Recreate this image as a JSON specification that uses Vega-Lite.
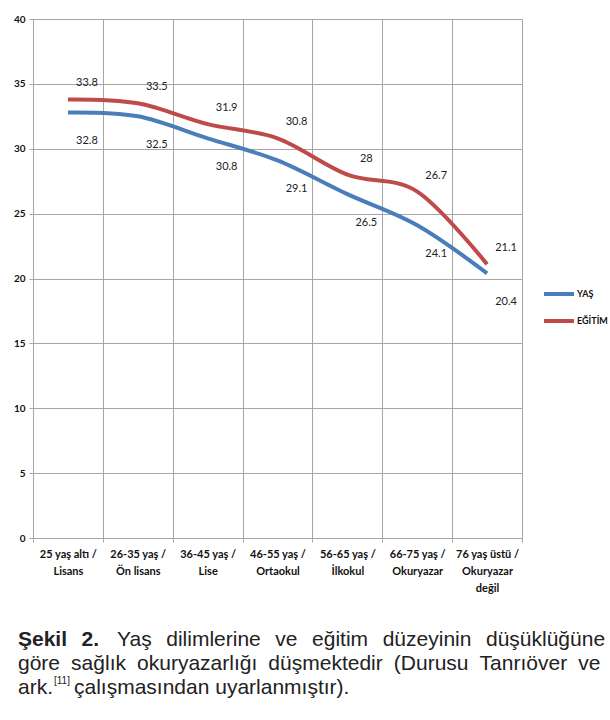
{
  "$schema": "https://vega.github.io/schema/vega-lite/v6.json",
  "background": "white",
  "padding": {"left": 12, "top": 13, "right": 0, "bottom": 0},
  "config": {"font": "Lato", "view": {"stroke": null}, "concat": {"spacing": 34}},
  "datasets": {
    "main": [
      {"cat": "25 yaş altı /|Lisans", "series": "YAŞ", "value": 32.8},
      {"cat": "26-35 yaş /|Ön lisans", "series": "YAŞ", "value": 32.5},
      {"cat": "36-45 yaş /|Lise", "series": "YAŞ", "value": 30.8},
      {"cat": "46-55 yaş /|Ortaokul", "series": "YAŞ", "value": 29.1},
      {"cat": "56-65 yaş /|İlkokul", "series": "YAŞ", "value": 26.5},
      {"cat": "66-75 yaş /|Okuryazar", "series": "YAŞ", "value": 24.1},
      {"cat": "76 yaş üstü /|Okuryazar|değil", "series": "YAŞ", "value": 20.4},
      {"cat": "25 yaş altı /|Lisans", "series": "EĞİTİM", "value": 33.8},
      {"cat": "26-35 yaş /|Ön lisans", "series": "EĞİTİM", "value": 33.5},
      {"cat": "36-45 yaş /|Lise", "series": "EĞİTİM", "value": 31.9},
      {"cat": "46-55 yaş /|Ortaokul", "series": "EĞİTİM", "value": 30.8},
      {"cat": "56-65 yaş /|İlkokul", "series": "EĞİTİM", "value": 28},
      {"cat": "66-75 yaş /|Okuryazar", "series": "EĞİTİM", "value": 26.7},
      {"cat": "76 yaş üstü /|Okuryazar|değil", "series": "EĞİTİM", "value": 21.1}
    ],
    "caption": [
      {"line": 1, "part": "b", "text": "Şekil \u2005\u20062."},
      {"line": 1, "part": "r1", "text": "Yaş \u2005\u2006dilimlerine \u2005\u2006ve \u2005\u2006eğitim \u2005\u2006düzeyinin \u2005\u2006düşüklüğüne"},
      {"line": 2, "part": "r2", "text": "göre \u2005sağlık \u2005okuryazarlığı \u2005düşmektedir \u2005(Durusu \u2005Tanrıöver \u2005ve"},
      {"line": 3, "part": "r3a", "text": "ark."},
      {"line": 3, "part": "sup", "text": "[11]"},
      {"line": 3, "part": "r3b", "text": "çalışmasından uyarlanmıştır)."}
    ]
  },
  "vconcat": [
    {
      "width": 489,
      "height": 519,
      "data": {"name": "main"},
      "view": {"stroke": "#a6a6a6"},
      "encoding": {
        "x": {
          "field": "cat",
          "type": "nominal",
          "sort": null,
          "scale": {"type": "band", "paddingInner": 0, "paddingOuter": 0},
          "axis": {
            "title": null,
            "labelAngle": 0,
            "labelExpr": "split(datum.label, '|')",
            "labelFontWeight": "bold",
            "labelFontSize": 11,
            "labelColor": "#111",
            "labelLineHeight": 17,
            "labelPadding": 6,
            "labelBaseline": "top",
            "tickBand": "extent",
            "grid": true,
            "gridColor": "#a6a6a6",
            "domainColor": "#a6a6a6",
            "tickColor": "#a6a6a6",
            "tickSize": 4
          }
        }
      },
      "layer": [
        {
          "mark": {"type": "line", "interpolate": "cardinal", "strokeWidth": 4},
          "encoding": {
            "y": {
              "field": "value",
              "type": "quantitative",
              "scale": {"domain": [0, 40]},
              "axis": {
                "title": null,
                "values": [0, 5, 10, 15, 20, 25, 30, 35, 40],
                "labelFontWeight": "bold",
                "labelFontSize": 10,
                "labelColor": "#111",
                "labelPadding": 4,
                "tickSize": 4,
                "grid": true,
                "gridColor": "#a6a6a6",
                "domainColor": "#a6a6a6",
                "tickColor": "#a6a6a6"
              }
            },
            "color": {
              "field": "series",
              "type": "nominal",
              "scale": {"domain": ["YAŞ", "EĞİTİM"], "range": ["#4a7ebb", "#be4b48"]},
              "legend": {
                "title": null,
                "orient": "none",
                "legendX": 509,
                "legendY": 265,
                "symbolType": "stroke",
                "symbolSize": 900,
                "symbolStrokeWidth": 4,
                "clipHeight": 20,
                "rowPadding": 7,
                "labelOffset": 1,
                "labelFontSize": 9,
                "labelFontWeight": "bold",
                "labelColor": "#111",
                "padding": 0
              }
            }
          }
        },
        {
          "transform": [{"filter": "datum.series == 'EĞİTİM'"}],
          "mark": {"type": "text", "dx": 19, "dy": -16, "fontSize": 11, "color": "#222"},
          "encoding": {
            "y": {"field": "value", "type": "quantitative"},
            "text": {"field": "value", "type": "quantitative"}
          }
        },
        {
          "transform": [{"filter": "datum.series == 'YAŞ'"}],
          "mark": {"type": "text", "dx": 19, "dy": 29, "fontSize": 11, "color": "#222"},
          "encoding": {
            "y": {"field": "value", "type": "quantitative"},
            "text": {"field": "value", "type": "quantitative"}
          }
        }
      ]
    },
    {
      "width": 560,
      "height": 72,
      "data": {"name": "caption"},
      "encoding": {
        "y": {"field": "line", "type": "ordinal", "scale": {"type": "point", "padding": 0.5}, "axis": null},
        "x": {"datum": 0, "type": "quantitative", "scale": {"domain": [0, 1]}, "axis": null},
        "text": {"field": "text"}
      },
      "layer": [
        {
          "transform": [{"filter": "datum.part == 'b'"}],
          "mark": {"type": "text", "align": "left", "baseline": "middle", "font": "Liberation Sans", "fontSize": 21, "fontWeight": "bold", "color": "#222", "dx": -15}
        },
        {
          "transform": [{"filter": "datum.part == 'r1'"}],
          "mark": {"type": "text", "align": "left", "baseline": "middle", "font": "Liberation Sans", "fontSize": 21, "color": "#222", "dx": 84}
        },
        {
          "transform": [{"filter": "datum.part == 'r2' || datum.part == 'r3a'"}],
          "mark": {"type": "text", "align": "left", "baseline": "middle", "font": "Liberation Sans", "fontSize": 21, "color": "#222", "dx": -15}
        },
        {
          "transform": [{"filter": "datum.part == 'sup'"}],
          "mark": {"type": "text", "align": "left", "baseline": "middle", "font": "Liberation Sans", "fontSize": 10, "color": "#222", "dx": 21, "dy": -7}
        },
        {
          "transform": [{"filter": "datum.part == 'r3b'"}],
          "mark": {"type": "text", "align": "left", "baseline": "middle", "font": "Liberation Sans", "fontSize": 21, "color": "#222", "dx": 41}
        }
      ]
    }
  ]
}
